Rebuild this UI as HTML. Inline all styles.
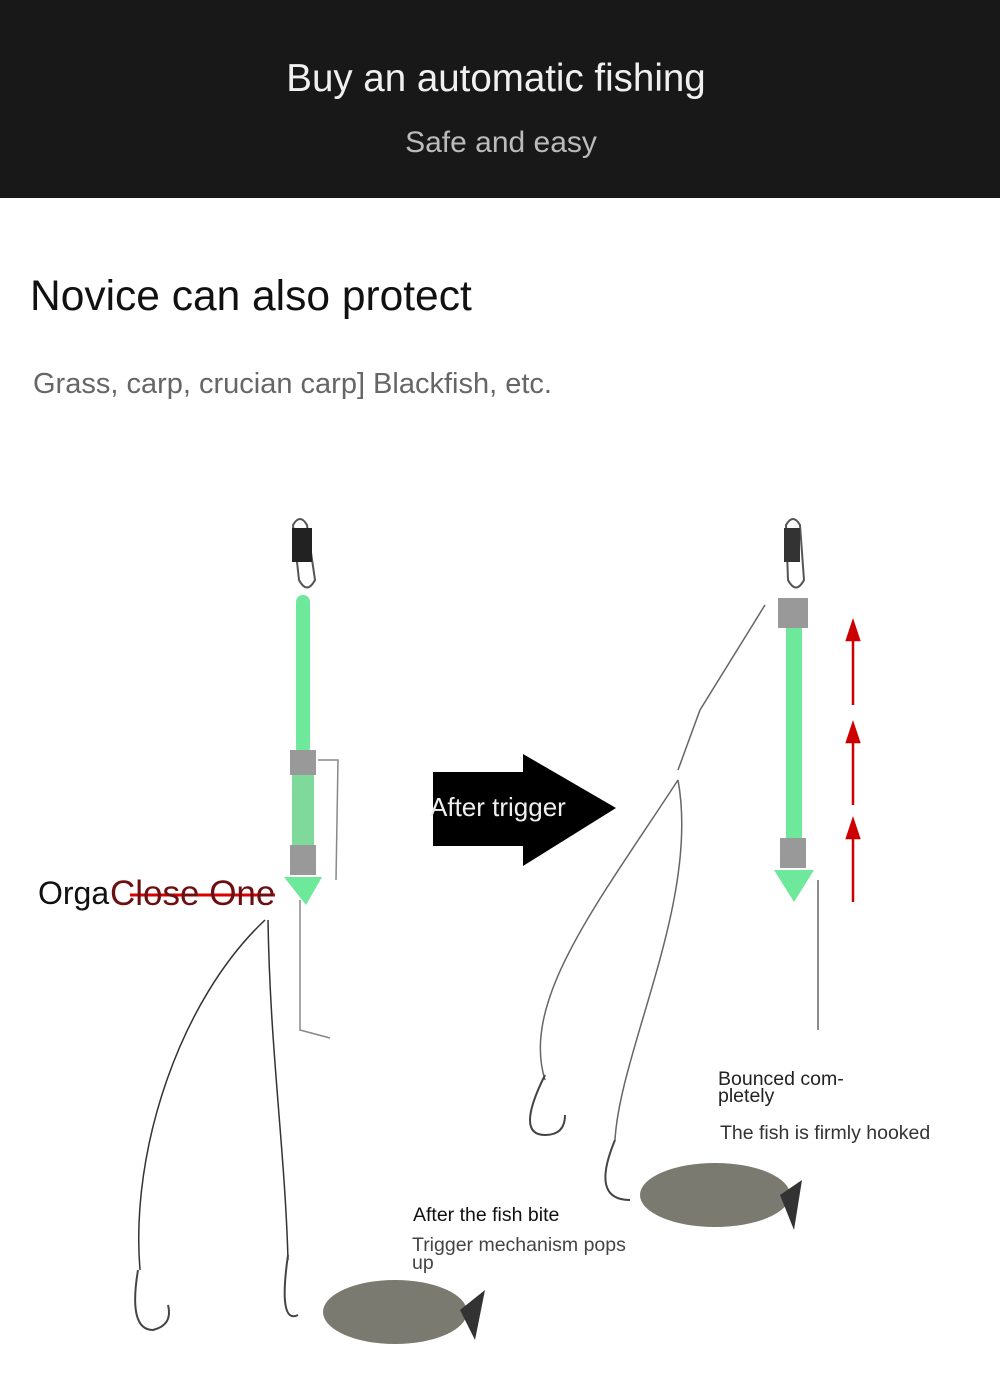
<!DOCTYPE html>
<html><head><meta charset="utf-8"><style>
body{margin:0;width:1000px;height:1399px;background:#fff;font-family:"Liberation Sans",sans-serif;overflow:hidden;position:relative}
.t{position:absolute;white-space:nowrap}
</style></head><body>
<div style="position:absolute;left:0;top:0;width:1000px;height:198px;background:#181818"></div>
<div class="t" style="left:0;width:992px;text-align:center;top:57px;font-size:38.5px;color:#f0f0f0">Buy an automatic fishing</div>
<div class="t" style="left:0;width:1002px;text-align:center;top:126px;font-size:30px;color:#bbb">Safe and easy</div>
<div class="t" style="left:30px;top:273px;font-size:42.5px;color:#111">Novice can also protect</div>
<div class="t" style="left:33px;top:368px;font-size:29px;color:#666">Grass, carp, crucian carp] Blackfish, etc.</div>
<svg style="position:absolute;left:0;top:0" width="1000" height="1399">
<path d="M293 525 q7-12 14 0 l8 55 q-8 15-16 0z" fill="none" stroke="#555" stroke-width="2"/>
<rect x="292" y="528" width="20" height="34" fill="#222"/>
<rect x="296" y="595" width="14" height="160" rx="7" fill="#6ee89a"/>
<rect x="290" y="750" width="26" height="25" fill="#999"/>
<rect x="292" y="775" width="22" height="70" fill="#7fd99a"/>
<rect x="290" y="845" width="26" height="30" fill="#999"/>
<path d="M284 877 h38 l-16 28z" fill="#6ee89a"/>
<path d="M318 760 l20 0 l-2 120 M300 900 l0 130 l30 8" fill="none" stroke="#888" stroke-width="1.5"/>
<path d="M265 920 C180 1000 130 1150 140 1270 M268 920 C270 1050 285 1150 288 1260" fill="none" stroke="#333" stroke-width="1.5"/>
<path d="M138 1270 q-10 60 15 60 q20-5 15-25 M288 1255 q-10 70 10 60" fill="none" stroke="#444" stroke-width="2"/>
<ellipse cx="395" cy="1312" rx="72" ry="32" fill="#7a7a70"/>
<path d="M460 1310 l25-20 l-10 50z" fill="#333"/>
<path d="M433 772 h90 v-18 l93 54 l-93 58 v-20 h-90z" fill="#000"/>
<path d="M786 525 q7-12 14 0 l4 55 q-8 15-16 0z" fill="none" stroke="#555" stroke-width="2"/>
<rect x="784" y="528" width="16" height="34" fill="#333"/>
<rect x="778" y="598" width="30" height="30" fill="#999"/>
<rect x="786" y="628" width="16" height="210" fill="#6ee89a"/>
<rect x="780" y="838" width="26" height="30" fill="#999"/>
<path d="M774 870 h40 l-20 32z" fill="#6ee89a"/>
<path d="M765 605 L700 710 L678 770 M678 780 C600 900 520 1000 545 1080 M678 780 C700 900 620 1050 615 1140 M818 880 l0 150" fill="none" stroke="#666" stroke-width="1.5"/>
<path d="M545 1075 q-30 60 0 60 q20 0 20-20 M615 1140 q-25 60 15 60" fill="none" stroke="#444" stroke-width="2"/>
<ellipse cx="715" cy="1195" rx="75" ry="32" fill="#7a7a70"/>
<path d="M780 1195 l22-15 l-8 50z" fill="#333"/>
<g stroke="#c00" stroke-width="2.5" fill="#c00">
<line x1="853" y1="640" x2="853" y2="705"/><path d="M847 640 l6-18 l6 18z"/>
<line x1="853" y1="742" x2="853" y2="805"/><path d="M847 742 l6-18 l6 18z"/>
<line x1="853" y1="838" x2="853" y2="902"/><path d="M847 838 l6-18 l6 18z"/>
</g>
<line x1="130" y1="895" x2="275" y2="895" stroke="#d00" stroke-width="3"/>
</svg>
<div class="t" style="left:430px;top:792px;font-size:26px;color:#eee">After trigger</div>
<div class="t" style="left:38px;top:875px;font-size:32px;color:#111">Orga</div>
<div class="t" style="left:110px;top:874px;font-size:35px;color:#6a1010">Close One</div>
<div class="t" style="left:718px;top:1071px;font-size:19.5px;color:#222;line-height:17px">Bounced com-<br>pletely</div>
<div class="t" style="left:720px;top:1122px;font-size:19.5px;color:#333">The fish is firmly hooked</div>
<div class="t" style="left:413px;top:1204px;font-size:19.5px;color:#111">After the fish bite</div>
<div class="t" style="left:412px;top:1236px;font-size:19.5px;color:#444;line-height:18px">Trigger mechanism pops<br>up</div>
</body></html>
